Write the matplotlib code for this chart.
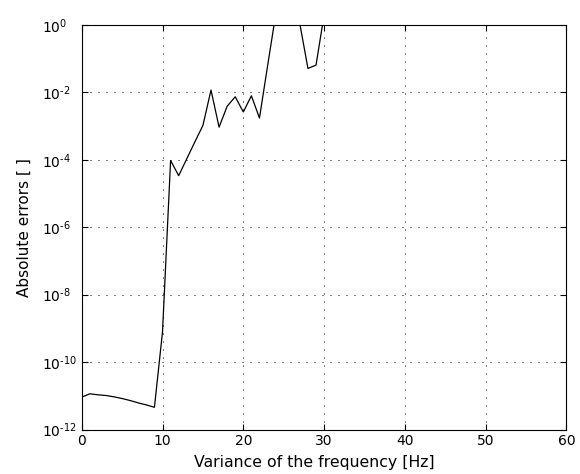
import numpy as np
import matplotlib
matplotlib.use("Agg")
import matplotlib.pyplot as plt
from matplotlib.ticker import FixedLocator, FixedFormatter, NullLocator

# Data (log10 of absolute error)
freq = [0, 1, 2, 3, 4, 5, 6, 7, 8, 9, 10, 11, 12, 13, 14, 15, 16, 17, 18, 19,
        20, 21, 22, 23, 24, 25, 26, 27, 28, 29, 30]
log_err = [-11.04, -10.94, -10.97, -10.99, -11.03, -11.08, -11.14, -11.21, -11.27, -11.34,
           -9.1, -4.02, -4.47, -3.97, -3.47, -2.98, -1.93, -3.03, -2.41, -2.13,
           -2.58, -2.1, -2.76, -1.22, 0.3, 0.6, 0.5, 0.03, -1.29, -1.19, 0.3]
err = [10.0 ** v for v in log_err]

xticks = [0, 10, 20, 30, 40, 50, 60]
yticks = [1e-12, 1e-10, 1e-8, 1e-6, 1e-4, 1e-2, 1e0]
ytick_labels = [r"$\mathregular{10^{\text{-}12}}$", r"$\mathregular{10^{\text{-}10}}$",
                r"$\mathregular{10^{\text{-}8}}$", r"$\mathregular{10^{\text{-}6}}$",
                r"$\mathregular{10^{\text{-}4}}$", r"$\mathregular{10^{\text{-}2}}$",
                r"$\mathregular{10^{0}}$"]

plt.rcParams['font.family'] = ['DejaVu Sans']
plt.rcParams['axes.unicode_minus'] = False
plt.rcParams['mathtext.default'] = 'regular'

fig = plt.figure(figsize=(5.8, 4.74), dpi=100)
ax = fig.add_axes([0.1409, 0.0938, 0.8358, 0.8535])

ax.semilogy(freq, err, color='black', linewidth=0.9)
ax.set_xlim(0, 60)
ax.set_ylim(1e-12, 1e0)

ax.xaxis.set_major_locator(FixedLocator(xticks))
ax.set_xticklabels([str(t) for t in xticks])
ax.yaxis.set_major_locator(FixedLocator(yticks))
ax.yaxis.set_major_formatter(FixedFormatter(ytick_labels))
ax.yaxis.set_minor_locator(NullLocator())

ax.grid(True, which='major', linestyle=(0, (1, 7)), color='black', linewidth=0.72)
ax.tick_params(direction='in', length=4, width=0.8, top=True, right=True,
               labelsize=10, colors='black')
ax.tick_params(axis='x', pad=3.5)
ax.tick_params(axis='y', pad=28.6)
for lab in ax.get_yticklabels():
    lab.set_horizontalalignment('left')
for s in ax.spines.values():
    s.set_linewidth(0.8)

ax.set_xlabel("Variance of the frequency [Hz]", fontsize=11.3)
ax.set_ylabel("Absolute errors [ ]", fontsize=11)
ax.xaxis.set_label_coords(0.479, -0.063)
ax.yaxis.set_label_coords(-0.103, 0.5)

fig.savefig("out.png", dpi=100, facecolor='white')
